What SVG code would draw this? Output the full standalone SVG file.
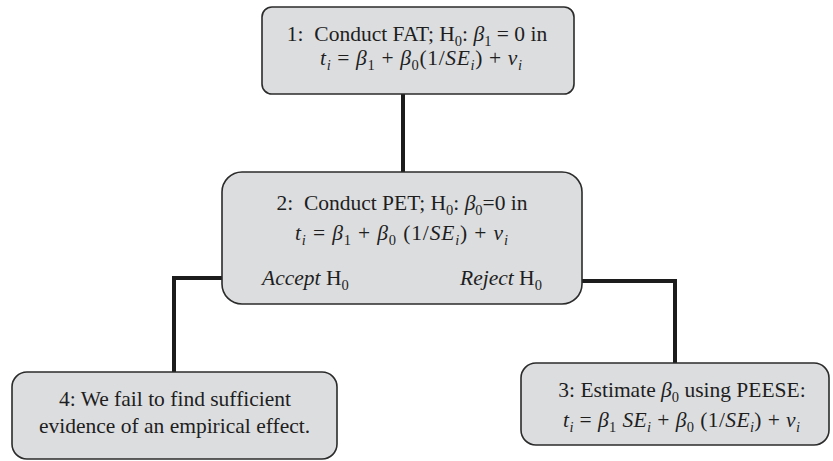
<svg xmlns="http://www.w3.org/2000/svg" width="833" height="461" viewBox="0 0 833 461">
  <style>
    .box { fill: #dcdddf; stroke: #2b2b2b; stroke-width: 1.6; }
    .wire { fill: none; stroke: #1c1c1c; stroke-width: 4; stroke-linejoin: miter; stroke-linecap: butt; }
    text { font-family: "Liberation Serif", "Times New Roman", "DejaVu Serif", serif; font-size: 21.5px; fill: #1e1e1e; }
    .it { font-style: italic; }
    .sub { font-size: 14.5px; baseline-shift: -5px; }
  </style>
  <rect width="833" height="461" fill="#ffffff"/>

  <!-- connectors -->
  <g id="connectors">
    <path class="wire" d="M403,94 V172"/>
    <path class="wire" d="M222,278 H174 V372"/>
    <path class="wire" d="M582,281 H675 V363"/>
  </g>

  <!-- step 1: FAT -->
  <g id="node-fat">
    <rect class="box" x="262" y="7" width="312" height="87" rx="10"/>
    <text x="417" y="41" text-anchor="middle" xml:space="preserve">1:  Conduct FAT; H<tspan class="sub">0</tspan>: <tspan class="it">β</tspan><tspan class="sub">1</tspan> = 0 in</text>
    <text x="421" y="65" text-anchor="middle" textLength="202" lengthAdjust="spacing" xml:space="preserve"><tspan class="it">t</tspan><tspan class="sub it">i</tspan> = <tspan class="it">β</tspan><tspan class="sub">1</tspan> + <tspan class="it">β</tspan><tspan class="sub">0</tspan>(1/<tspan class="it">SE</tspan><tspan class="sub it">i</tspan>) + <tspan class="it">ν</tspan><tspan class="sub it">i</tspan></text>
  </g>

  <!-- step 2: PET -->
  <g id="node-pet">
    <rect class="box" x="222" y="172" width="360" height="132" rx="20"/>
    <text x="402" y="210" text-anchor="middle" xml:space="preserve">2:  Conduct PET; H<tspan class="sub">0</tspan>: <tspan class="it">β</tspan><tspan class="sub">0</tspan>=0 in</text>
    <text x="401.5" y="240" text-anchor="middle" textLength="213" lengthAdjust="spacing" xml:space="preserve"><tspan class="it">t</tspan><tspan class="sub it">i</tspan> = <tspan class="it">β</tspan><tspan class="sub">1</tspan> + <tspan class="it">β</tspan><tspan class="sub">0</tspan> (1/<tspan class="it">SE</tspan><tspan class="sub it">i</tspan>) + <tspan class="it">ν</tspan><tspan class="sub it">i</tspan></text>
    <text x="262" y="285" xml:space="preserve"><tspan class="it">Accept</tspan> H<tspan class="sub">0</tspan></text>
    <text x="460" y="285" xml:space="preserve"><tspan class="it">Reject</tspan> H<tspan class="sub">0</tspan></text>
  </g>

  <!-- step 4: no effect -->
  <g id="node-fail">
    <rect class="box" x="12" y="372" width="325" height="87" rx="15"/>
    <text x="175" y="406" text-anchor="middle">4: We fail to find sufficient</text>
    <text x="174.5" y="433" text-anchor="middle">evidence of an empirical effect.</text>
  </g>

  <!-- step 3: PEESE -->
  <g id="node-peese">
    <rect class="box" x="521" y="363" width="308" height="82" rx="15"/>
    <text x="682" y="397" text-anchor="middle" xml:space="preserve">3: Estimate <tspan class="it">β</tspan><tspan class="sub">0</tspan> using PEESE:</text>
    <text x="681.5" y="427" text-anchor="middle" textLength="237" lengthAdjust="spacing" xml:space="preserve"><tspan class="it">t</tspan><tspan class="sub it">i</tspan> = <tspan class="it">β</tspan><tspan class="sub">1</tspan> <tspan class="it">SE</tspan><tspan class="sub it">i</tspan> + <tspan class="it">β</tspan><tspan class="sub">0</tspan> (1/<tspan class="it">SE</tspan><tspan class="sub it">i</tspan>) + <tspan class="it">ν</tspan><tspan class="sub it">i</tspan></text>
  </g>
</svg>
